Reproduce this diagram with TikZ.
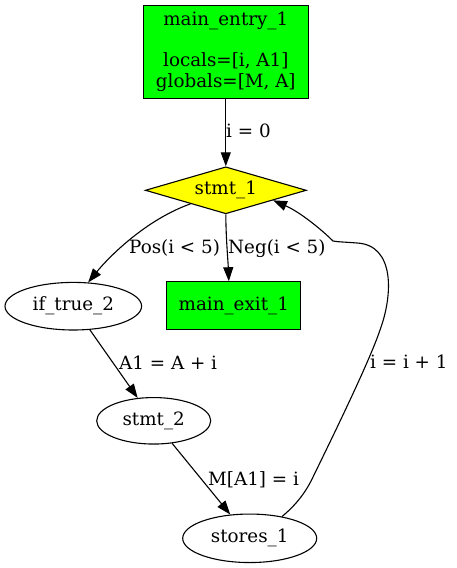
\documentclass[tikz,border=0pt]{standalone}
\usepackage{fontspec}
\setmainfont{DejaVu Serif}
\usetikzlibrary{shapes.geometric,arrows.meta}
\definecolor{gvgreen}{HTML}{00FF00}
\definecolor{gvyellow}{HTML}{FFFF00}
\begin{document}
\begin{tikzpicture}[x=1pt,y=-1pt,
  every node/.style={font=\fontsize{18.3}{20.5}\selectfont},
  box/.style={draw, line width=1.1pt, inner sep=0pt, rectangle},
  oval/.style={draw, ellipse, line width=1.1pt, inner sep=0pt},
  cond/.style={draw, diamond, shape aspect=3.4, line width=1.1pt, fill=gvyellow, inner sep=0pt, minimum width=161pt, minimum height=47pt},
  lbl/.style={inner sep=0pt, anchor=base west},
  conn/.style={draw, line width=1.1pt, -{Triangle[length=14pt,width=10pt]}}]
\useasboundingbox (0,0) rectangle (456,568);
\node[box, fill=gvgreen, align=center, minimum width=165pt, minimum height=93pt] (entry) at (225.8,51.7) {main\_entry\_1\\[20.5pt]locals=[i, A1]\\globals=[M, A]};
\node[cond] (stmt1) at (225.8,190.3) {stmt\_1};
\node[oval, minimum width=136.6pt, minimum height=47.6pt] (iftrue) at (73.3,306.2) {if\_true\_2};
\node[box, fill=gvgreen, minimum width=134pt, minimum height=48pt] (exit) at (233.8,305.8) {main\_exit\_1};
\node[oval, minimum width=114pt, minimum height=46.5pt] (stmt2) at (153.7,420.8) {stmt\_2};
\node[oval, minimum width=134pt, minimum height=48.5pt] (stores) at (249.7,538.3) {stores\_1};
\draw[conn] (entry) -- (stmt1);
\draw[conn] (stmt1.201) .. controls (145,220) and (108,258) .. (iftrue.58);
\draw[conn] (stmt1.south) .. controls (226,240) and (228,260) .. ([xshift=-5pt]exit.north);
\draw[conn] (iftrue) -- (stmt2);
\draw[conn] (stmt2) -- (stores);
\draw[conn] (stores.34) .. controls (296,505) and (306,492) .. (313,477) .. controls (335,432) and (370,360) .. (380,330) .. controls (393,295) and (395,245) .. (357,243) .. controls (345,242) and (338,242) .. (333,241) .. controls (322,230) and (300,212) .. (stmt1.-12);
\node[lbl] (l0) at (226,137) {i = 0};
\node[lbl] (l1) at (129,253) {Pos(i < 5)};
\node[lbl] (l2) at (228,253) {Neg(i < 5)};
\node[lbl] (l3) at (119,369) {A1 = A + i};
\node[lbl] (l4) at (208,485) {M[A1] = i};
\node[lbl] (l5) at (370,368) {i = i + 1};
\end{tikzpicture}
\end{document}
